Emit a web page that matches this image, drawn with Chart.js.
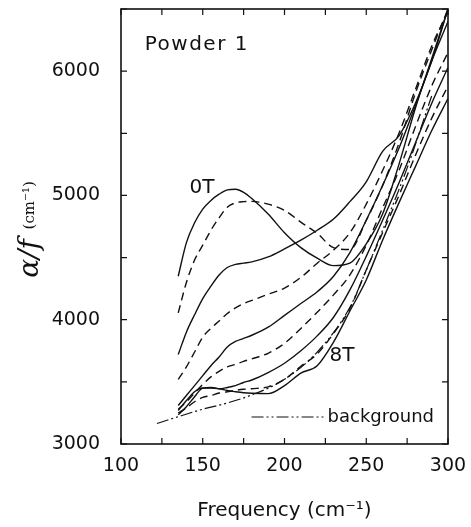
<!DOCTYPE html>
<html>
<head>
<meta charset="utf-8">
<script src="https://cdn.jsdelivr.net/npm/chart.js@4.4.1/dist/chart.umd.min.js"></script>
<style>
  html, body { margin: 0; padding: 0; background: #fff; }
  #wrap { width: 471px; height: 527px; }
</style>
</head>
<body>
<div id="wrap"><canvas id="chart"></canvas></div>
<script>
// frequency grid (cm^-1) shared by all field curves
var freq = [135, 140, 145, 150, 155, 160, 165, 170, 175, 180, 190, 200, 210, 220, 230, 240, 250, 260, 270, 280, 290, 300];

// alpha/f for each field, 0T .. 8T (solid / dashed alternate)
var t0 = [4350, 4620, 4780, 4890, 4960, 5010, 5045, 5050, 5025, 4975, 4850, 4700, 4580, 4495, 4435, 4455, 4610, 4850, 5250, 5700, 6100, 6500];
var t1 = [4055, 4300, 4480, 4600, 4720, 4820, 4905, 4940, 4950, 4952, 4930, 4880, 4785, 4695, 4580, 4565, 4800, 5080, 5420, 5820, 6170, 6500];
var t2 = [3720, 3900, 4040, 4170, 4270, 4360, 4420, 4445, 4455, 4465, 4505, 4570, 4640, 4720, 4810, 4950, 5110, 5355, 5480, 5740, 6080, 6500];
var t3 = [3520, 3620, 3740, 3860, 3930, 3990, 4050, 4095, 4130, 4155, 4205, 4255, 4340, 4455, 4560, 4700, 4930, 5200, 5500, 5850, 6200, 6480];
var t4 = [3310, 3390, 3470, 3550, 3630, 3700, 3780, 3825, 3850, 3875, 3940, 4035, 4130, 4225, 4350, 4540, 4800, 5080, 5380, 5720, 6080, 6400];
var t5 = [3280, 3340, 3410, 3480, 3540, 3585, 3620, 3640, 3665, 3685, 3730, 3810, 3930, 4060, 4200, 4360, 4600, 4900, 5200, 5550, 5880, 6150];
var t6 = [3270, 3350, 3420, 3450, 3450, 3445, 3455, 3470, 3495, 3515, 3575, 3650, 3750, 3870, 4020, 4240, 4510, 4800, 5100, 5420, 5740, 6030];
var t7 = [3250, 3290, 3340, 3375, 3390, 3410, 3420, 3432, 3440, 3445, 3460, 3520, 3625, 3725, 3890, 4090, 4400, 4700, 5000, 5320, 5620, 5880];
var t8 = [3235, 3300, 3380, 3450, 3455, 3445, 3430, 3420, 3412, 3408, 3405, 3470, 3570, 3630, 3820, 4070, 4320, 4640, 4940, 5230, 5520, 5780];

// background curve
var bgFreq = [122, 135, 150, 165, 180, 200, 220, 240, 250, 260, 275, 290];
var bgVals = [3165, 3220, 3280, 3330, 3395, 3520, 3740, 4100, 4400, 4720, 5220, 5800];

var xTicks = [100, 150, 200, 250, 300];
var yTicks = [3000, 4000, 5000, 6000];

var fields = [t0, t1, t2, t3, t4, t5, t6, t7, t8];

function pts(xs, ys) {
    return xs.map(function (x, i) { return { x: x, y: ys[i] }; });
}

var datasets = fields.map(function (vals, i) {
    return {
        data: pts(freq, vals),
        borderColor: "#111",
        borderWidth: 1.4,
        borderDash: i % 2 === 0 ? [] : [8, 5],
        pointRadius: 0,
        fill: false,
        cubicInterpolationMode: "monotone"
    };
});
datasets.push({
    data: pts(bgFreq, bgVals),
    borderColor: "#111",
    borderWidth: 1.2,
    borderDash: [12, 3, 2, 3, 2, 3],
    pointRadius: 0,
    fill: false,
    cubicInterpolationMode: "monotone"
});

var tickFont = { family: "DejaVu Sans", size: 19 };

function noPad(s) {
    s.paddingTop = 0; s.paddingBottom = 0; s.paddingLeft = 0; s.paddingRight = 0;
}

// frame, inward ticks, labels, legend and y title
var decor = {
    id: "decor",
    afterDraw: function (chart) {
        var c = chart.ctx, a = chart.chartArea;
        var xs = chart.scales.x, ys = chart.scales.y;
        c.save();
        c.strokeStyle = "#111";
        c.lineWidth = 1.6;
        c.strokeRect(a.left, a.top, a.right - a.left, a.bottom - a.top);

        c.lineWidth = 1.2;
        c.beginPath();
        for (var v = 100; v <= 300; v += 25) {
            var px = xs.getPixelForValue(v);
            c.moveTo(px, a.bottom); c.lineTo(px, a.bottom - 6);
            c.moveTo(px, a.top); c.lineTo(px, a.top + 6);
        }
        for (var w = 3000; w <= 6500; w += 500) {
            var py = ys.getPixelForValue(w);
            c.moveTo(a.left, py); c.lineTo(a.left + 6, py);
            c.moveTo(a.right, py); c.lineTo(a.right - 6, py);
        }
        c.stroke();

        // text labels in data coordinates
        c.fillStyle = "#111";
        c.font = "20px 'DejaVu Sans'";
        c.textBaseline = "middle";
        c.textAlign = "left";
        c.letterSpacing = "1.5px";
        c.fillText("Powder 1", xs.getPixelForValue(114.5), ys.getPixelForValue(6210));
        c.letterSpacing = "0px";
        c.textAlign = "center";
        c.fillText("0T", xs.getPixelForValue(149.5), ys.getPixelForValue(5065));
        c.fillText("8T", xs.getPixelForValue(235.2), ys.getPixelForValue(3710));

        // legend
        c.font = "18px 'DejaVu Sans'";
        c.textAlign = "left";
        var label = "background";
        var tw = c.measureText(label).width;
        var tx = a.right - 14 - tw, ty = a.bottom - 27;
        c.fillText(label, tx, ty);
        c.lineWidth = 1.2;
        c.setLineDash([12, 3, 2, 3, 2, 3]);
        c.beginPath();
        c.moveTo(tx - 76, ty); c.lineTo(tx - 4, ty);
        c.stroke();
        c.setLineDash([]);

        // y axis title
        c.translate(30, 232);
        c.rotate(-Math.PI / 2);
        c.textBaseline = "alphabetic";
        c.font = "italic 28px 'DejaVu Serif'";
        var t1w = c.measureText("\u03b1/f").width;
        c.font = "15px 'DejaVu Serif'";
        var t2w = c.measureText(" (cm\u207b\u00b9)").width;
        var start = -(t1w + t2w) / 2;
        c.font = "italic 28px 'DejaVu Serif'";
        c.fillText("\u03b1/f", start, 8);
        c.font = "15px 'DejaVu Serif'";
        c.fillText(" (cm\u207b\u00b9)", start + t1w + 5, 4);
        c.restore();
    }
};

var chart = new Chart(document.getElementById("chart"), {
    type: "line",
    data: { datasets: datasets },
    options: {
        responsive: true,
        maintainAspectRatio: false,
        animation: false,
        layout: { padding: { top: 9, right: 23, left: 0, bottom: 0 } },
        plugins: { legend: { display: false }, tooltip: { enabled: false } },
        scales: {
            x: {
                type: "linear",
                min: 100,
                max: 300,
                afterBuildTicks: function (s) { s.ticks = xTicks.map(function (v) { return { value: v }; }); },
                afterFit: function (s) { s.height = 83; noPad(s); },
                grid: { display: false, drawTicks: false },
                border: { display: false },
                ticks: {
                    color: "#111", font: tickFont, padding: 11, maxRotation: 0,
                    callback: function (v) { return String(v); }
                },
                title: {
                    display: true,
                    text: "Frequency (cm\u207b\u00b9)",
                    color: "#111",
                    font: { family: "DejaVu Sans", size: 20 },
                    padding: { top: 0, bottom: 4 }
                }
            },
            y: {
                type: "linear",
                min: 3000,
                max: 6500,
                afterBuildTicks: function (s) { s.ticks = yTicks.map(function (v) { return { value: v }; }); },
                afterFit: function (s) { s.width = 121; noPad(s); },
                grid: { display: false, drawTicks: false },
                border: { display: false },
                ticks: {
                    color: "#111", font: tickFont, padding: 21,
                    callback: function (v) { return String(v); }
                }
            }
        }
    },
    plugins: [decor]
});
</script>
</body>
</html>
